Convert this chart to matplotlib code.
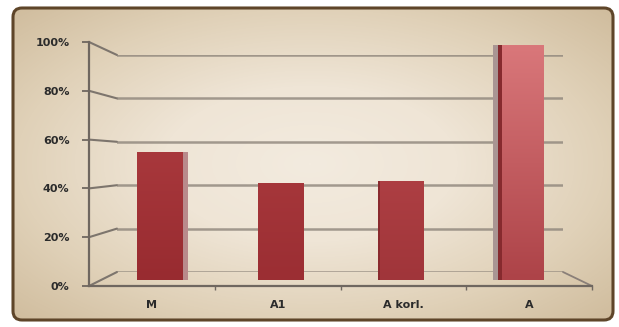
import matplotlib
matplotlib.use("Agg")
import matplotlib.pyplot as plt
import numpy as np
from matplotlib.patches import FancyBboxPatch, ConnectionPatch
from matplotlib.colors import LinearSegmentedColormap

# --- data ---
categories = ["M", "A1", "A korl.", "A"]
values = [53, 40, 41, 97]
y_ticks = [0, 20, 40, 60, 80, 100]
y_labels = ["0%", "20%", "40%", "60%", "80%", "100%"]

# bar colours (top, bottom)
bar_top = ["#a8383c", "#a5363a", "#ad3f43", "#d9777a"]
bar_bottom = ["#982b30", "#9b2e33", "#a0353a", "#ad4348"]

W, H = 619, 327
fig = plt.figure(figsize=(W / 100, H / 100), dpi=100)
fig.patch.set_facecolor("white")


def box(x0, y0, x1, y1):
    # pixel box (top-left origin) -> figure fraction rect
    return [x0 / W, 1 - y1 / H, (x1 - x0) / W, (y1 - y0) / H]


# --- background panel with vignette ---
bg = fig.add_axes([0, 0, 1, 1], zorder=0)
bg.set_xlim(0, W)
bg.set_ylim(H, 0)
bg.axis("off")
panel = FancyBboxPatch((13, 8), 600, 312, boxstyle="round,pad=0,rounding_size=9",
                       facecolor="none", edgecolor="#5e4529", linewidth=2.2, zorder=3)
bg.add_patch(panel)
yy, xx = np.mgrid[0:H, 0:W]
r = np.sqrt(((xx - W / 2) / (W / 2)) ** 2 + ((yy - H / 2) / (H / 2)) ** 2)
cmap = LinearSegmentedColormap.from_list("bg", ["#f3ebdf", "#efe5d6", "#e0d1b8", "#cdb999"])
img = bg.imshow(r, cmap=cmap, vmin=0, vmax=1.42, extent=(0, W, H, 0), zorder=1)
img.set_clip_path(panel)

# --- back wall (gridlines) ---
back = fig.add_axes(box(117, 55, 563, 272), zorder=1)
back.set_xlim(0, 1)
back.set_ylim(0, 100)
back.patch.set_visible(False)
for s in back.spines.values():
    s.set_visible(False)
back.set_xticks([])
back.set_yticks([])
for v in y_ticks:
    back.axhline(v, color="#8e857b", linewidth=1.8, alpha=0.8)

# --- front axis ---
front = fig.add_axes(box(89, 42, 592, 286), zorder=2)
front.set_xlim(-0.5, len(categories) - 0.5)
front.set_ylim(0, 100)
front.patch.set_visible(False)
front.spines["top"].set_visible(False)
front.spines["right"].set_visible(False)
for s in ("left", "bottom"):
    front.spines[s].set_color("#6f6760")
    front.spines[s].set_linewidth(1.6)
front.set_yticks(y_ticks)
front.set_yticklabels(y_labels, fontsize=8, fontweight="bold", color="#2b2b2b")
front.tick_params(axis="y", length=5, width=1.3, color="#6f6760", pad=9)
front.set_xticks(range(len(categories)))
front.set_xticklabels(categories, fontsize=8, fontweight="bold", color="#2b2b2b")
front.set_xticks([0.5, 1.5, 2.5, 3.5], minor=True)
front.tick_params(axis="x", which="major", length=0, pad=10)
front.tick_params(axis="x", which="minor", length=3, width=1, color="#6f6760")

# connectors between front axis and back wall
for v in y_ticks:
    con = ConnectionPatch(xyA=(-0.5, v), coordsA=front.transData,
                          xyB=(0, v), coordsB=back.transData,
                          color="#7d756d", linewidth=1.5)
    fig.add_artist(con)
con = ConnectionPatch(xyA=(len(categories) - 0.5, 0), coordsA=front.transData,
                      xyB=(1, 0), coordsB=back.transData,
                      color="#8a7f78", linewidth=1.3)
fig.add_artist(con)

# --- bars ---
bars_ax = fig.add_axes(box(100, 38, 581, 280), zorder=3)
bars_ax.set_xlim(-0.5, len(categories) - 0.5)
bars_ax.set_ylim(0, 100)
bars_ax.axis("off")
x = np.arange(len(categories))
width = 0.38
bars = bars_ax.bar(x, values, width=width, color=bar_bottom, zorder=2)
for b, ct, cb in zip(bars, bar_top, bar_bottom):
    grad = LinearSegmentedColormap.from_list("g", [cb, ct])
    x0, y0 = b.get_x(), b.get_y()
    im = bars_ax.imshow(np.linspace(0, 1, 100).reshape(-1, 1), cmap=grad, origin="lower",
                        aspect="auto", extent=(x0, x0 + b.get_width(), y0, y0 + b.get_height()),
                        zorder=3)
    im.set_clip_path(b)

# side faces (perspective)
bars_ax.bar(x[0] + width / 2 + 0.02, values[0], width=0.04, color="#b98a8b", zorder=2)
bars_ax.bar(x[2] - width / 2 + 0.01, values[2], width=0.02, color="#8a2a2e", zorder=4)
bars_ax.bar(x[3] - width / 2 - 0.02, values[3], width=0.04, color="#a99593", zorder=2)
bars_ax.bar(x[3] - width / 2 + 0.015, values[3], width=0.03, color="#862a2e", zorder=4)
bars_ax.set_xlim(-0.5, len(categories) - 0.5)
bars_ax.set_ylim(0, 100)

fig.savefig("out.png", dpi=100)
